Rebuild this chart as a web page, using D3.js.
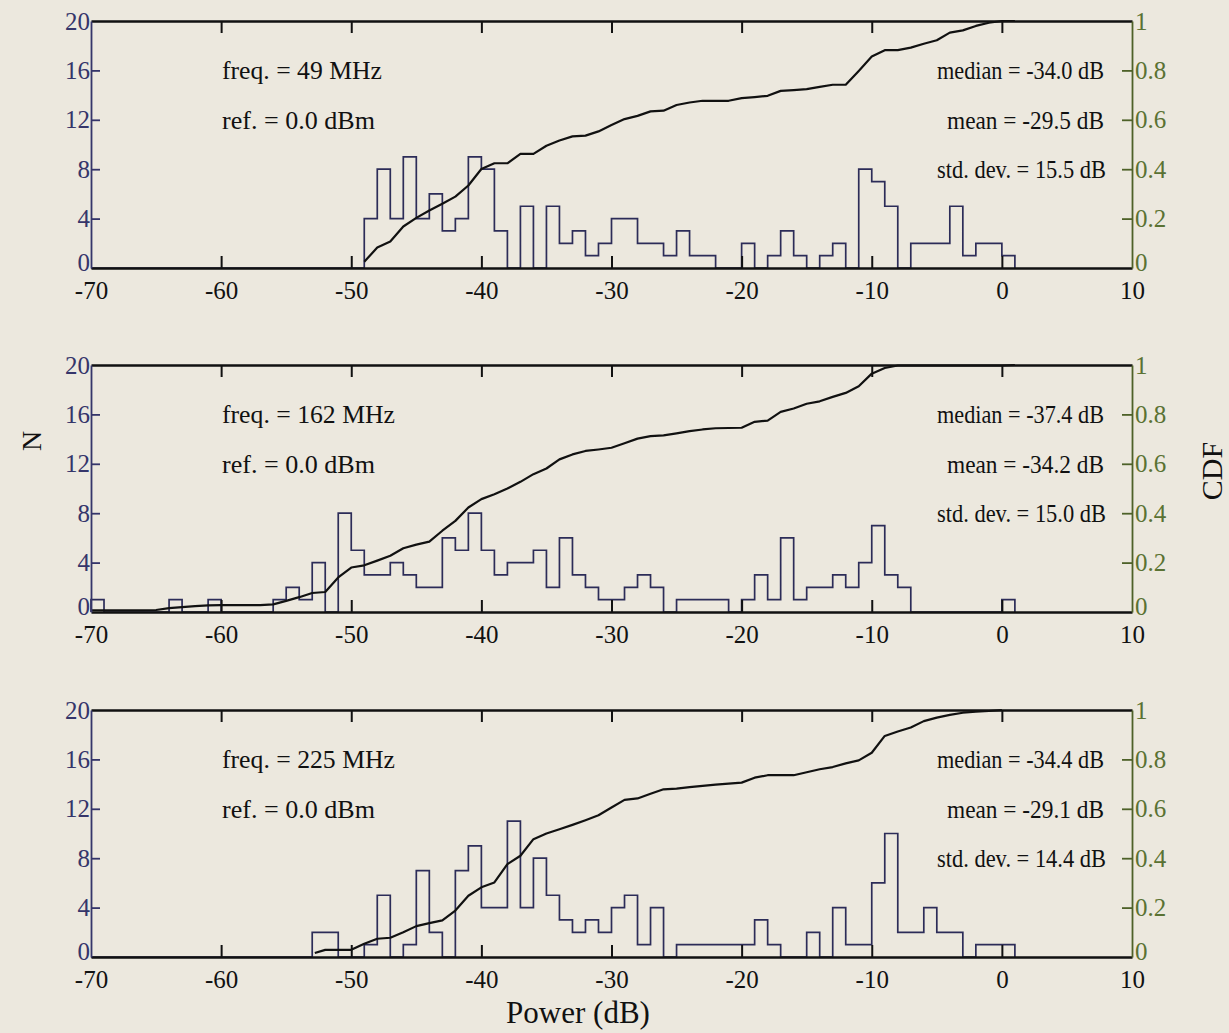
<!DOCTYPE html>
<html><head><meta charset="utf-8">
<script src="https://cdn.jsdelivr.net/npm/d3@7"></script>
<style>
html,body{margin:0;padding:0;background:#ece8de;}
svg{display:block;}
</style></head><body>
<svg id="chart" width="1229" height="1033"></svg>
<script>
// ---------- data ----------
const binEdges = [-70,-69,-68,-67,-66,-65,-64,-63,-62,-61,
  -60,-59,-58,-57,-56,-55,-54,-53,-52,-51,
  -50,-49,-48,-47,-46,-45,-44,-43,-42,-41,
  -40,-39,-38,-37,-36,-35,-34,-33,-32,-31,
  -30,-29,-28,-27,-26,-25,-24,-23,-22,-21,
  -20,-19,-18,-17,-16,-15,-14,-13,-12,-11,
  -10,-9,-8,-7,-6,-5,-4,-3,-2,-1,0];

const counts49 = [0,0,0,0,0,0,0,0,0,0,
  0,0,0,0,0,0,0,0,0,0,
  0,4,8,4,9,4,6,3,4,9,
  8,3,0,5,0,5,2,3,1,2,
  4,4,2,2,1,3,1,1,0,0,
  2,0,1,3,1,0,1,2,0,8,
  7,5,0,2,2,2,5,1,2,2,1];
const counts162 = [1,0,0,0,0,0,1,0,0,1,
  0,0,0,0,1,2,1,4,0,8,
  5,3,3,4,3,2,2,6,5,8,
  5,3,4,4,5,2,6,3,2,1,
  1,2,3,2,0,1,1,1,1,0,
  1,3,1,6,1,2,2,3,2,4,
  7,3,2,0,0,0,0,0,0,0,1];
const counts225 = [0,0,0,0,0,0,0,0,0,0,
  0,0,0,0,0,0,0,2,2,0,
  0,1,5,0,1,7,2,0,7,9,
  4,4,11,4,8,5,3,2,3,2,
  4,5,1,4,0,1,1,1,1,1,
  1,3,1,0,0,2,0,4,1,1,
  6,10,2,2,4,2,2,0,1,1,1];

const cdfX49 = [-49,-48,-47,-46,-45,-44,-43,-42,-41,-40,-39,-38,-37,-36,-35,-34,-33,-32,-31,-30,
  -29,-28,-27,-26,-25,-24,-23,-22,-21,-20,-19,-18,-17,-16,-15,-14,-13,-12,-11,-10,
  -9,-8,-7,-6,-5,-4,-3,-2,-1,0,1];
const cdfY49 = [0.025,0.083,0.107,0.168,0.203,0.233,0.260,0.289,0.334,0.401,0.424,0.424,0.462,0.462,0.495,0.516,0.533,0.536,0.553,0.579,
  0.603,0.616,0.634,0.637,0.660,0.670,0.677,0.677,0.677,0.688,0.692,0.697,0.717,0.720,0.724,0.733,0.742,0.742,0.798,0.856,
  0.882,0.882,0.892,0.908,0.922,0.953,0.962,0.980,0.993,1.0,1.0];

const cdfX162 = [-70,-69,-68,-67,-66,-65,-64,-63,-62,-61,-60,-59,-58,-57,-56,-55,-54,-53,-52,-51,
  -50,-49,-48,-47,-46,-45,-44,-43,-42,-41,-40,-39,-38,-37,-36,-35,-34,-33,-32,-31,
  -30,-29,-28,-27,-26,-25,-24,-23,-22,-21,-20,-19,-18,-17,-16,-15,-14,-13,-12,-11,
  -10,-9,-8,-7,-6,-5,-4,-3,-2,-1,0,1];
const cdfY162 = [0.007,0.007,0.007,0.007,0.007,0.008,0.016,0.020,0.024,0.027,0.028,0.028,0.028,0.028,0.031,0.045,0.060,0.077,0.081,0.140,
  0.180,0.189,0.208,0.228,0.258,0.273,0.285,0.329,0.369,0.423,0.457,0.477,0.500,0.527,0.558,0.581,0.618,0.638,0.652,0.658,
  0.665,0.683,0.702,0.712,0.715,0.723,0.732,0.739,0.744,0.745,0.746,0.770,0.775,0.810,0.824,0.843,0.853,0.871,0.887,0.914,
  0.965,0.988,0.998,0.998,0.998,0.998,0.998,0.998,0.998,0.998,0.998,1.0];

const cdfX225 = [-52.8,-52,-51,-50,-49,-48,-47,-46,-45,-44,-43,-42,-41,-40,-39,-38,-37,-36,-35,-34,
  -33,-32,-31,-30,-29,-28,-27,-26,-25,-24,-23,-22,-21,-20,-19,-18,-17,-16,-15,-14,
  -13,-12,-11,-10,-9,-8,-7,-6,-5,-4,-3,-2,-1,0];
const cdfY225 = [0.016,0.029,0.029,0.029,0.054,0.074,0.078,0.100,0.125,0.137,0.148,0.188,0.248,0.282,0.302,0.376,0.410,0.477,0.500,0.517,
  0.535,0.554,0.574,0.605,0.636,0.642,0.661,0.679,0.682,0.688,0.693,0.698,0.702,0.706,0.726,0.736,0.736,0.736,0.748,0.760,
  0.769,0.784,0.796,0.827,0.895,0.913,0.929,0.955,0.969,0.980,0.989,0.993,0.996,1.0];

const freqLabels = ["freq. = 49 MHz", "freq. = 162 MHz", "freq. = 225 MHz"];
const refLabels = ["ref. = 0.0 dBm", "ref. = 0.0 dBm", "ref. = 0.0 dBm"];
const medianLabels = ["median = -34.0 dB", "median = -37.4 dB", "median = -34.4 dB"];
const meanLabels = ["mean = -29.5 dB", "mean = -34.2 dB", "mean = -29.1 dB"];
const stdLabels = ["std. dev. = 15.5 dB", "std. dev. = 15.0 dB", "std. dev. = 14.4 dB"];

const xTicks = [-70,-60,-50,-40,-30,-20,-10,0,10];
const nTicks = [0,4,8,12,16,20];
const cdfTicks = [0,0.2,0.4,0.6,0.8,1];
const xLabel = "Power (dB)";
const yLabelLeft = "N";
const yLabelRight = "CDF";

// ---------- layout ----------
const panels = [
  {counts: counts49, cx: cdfX49, cy: cdfY49, freqW: 160},
  {counts: counts162, cx: cdfX162, cy: cdfY162, freqW: 173},
  {counts: counts225, cx: cdfX225, cy: cdfY225, freqW: 173}
];
const tops = [21, 365, 710];
const ph = 247;
const FONT = '"Liberation Serif","Times New Roman",serif';
const NAVY = "#35356a", HIST = "#2c2c58", OLIVE = "#4e6128", OLIVE_T = "#5a7233";

const svg = d3.select("#chart");
svg.append("rect").attr("width",1229).attr("height",1033).attr("fill","#ece8de");

const x = d3.scaleLinear().domain([-70,10]).range([91,1132]);

panels.forEach((p, i) => {
  const top = tops[i], bot = top + ph;
  const yL = d3.scaleLinear().domain([0,20]).range([bot, top]);
  const yR = d3.scaleLinear().domain([0,1]).range([bot, top]);
  const g = svg.append("g");

  // histogram outline
  const pts = [[binEdges[0], 0]].concat(binEdges.map((e, k) => [e, p.counts[k]])).concat([[binEdges[binEdges.length-1] + 1, 0]]);
  g.append("path")
    .attr("d", d3.line().x(d => x(d[0])).y(d => yL(d[1])).curve(d3.curveStepAfter)(pts))
    .attr("fill","none").attr("stroke",HIST).attr("stroke-width",1.7);

  // CDF
  g.append("path")
    .attr("d", d3.line().x(d => x(d[0])).y(d => yR(d[1]))(p.cx.map((v,k)=>[v,p.cy[k]])))
    .attr("fill","none").attr("stroke","#111").attr("stroke-width",2.2).attr("stroke-linejoin","round");

  // bottom axis
  const ax = g.append("g").attr("transform",`translate(0,${bot})`)
    .call(d3.axisBottom(x).tickValues(xTicks).tickSizeInner(-12).tickSizeOuter(0).tickPadding(13).tickFormat(d => String(d)));
  ax.select(".domain").attr("stroke","#111").attr("stroke-width",2.4);
  ax.selectAll(".tick line").attr("stroke","#111").attr("stroke-width",2)
    .filter(d => d === -70 || d === 10).remove();
  ax.selectAll("text").attr("font-family",FONT).attr("font-size",25).attr("fill","#111");

  // top axis
  const at = g.append("g").attr("transform",`translate(0,${top})`)
    .call(d3.axisTop(x).tickValues(xTicks.slice(1,-1)).tickSizeInner(-12).tickSizeOuter(0).tickFormat(""));
  at.select(".domain").attr("stroke","#111").attr("stroke-width",2.4);
  at.selectAll(".tick line").attr("stroke","#111").attr("stroke-width",2);

  // left axis
  const al = g.append("g").attr("transform",`translate(${x(-70)},0)`)
    .call(d3.axisLeft(yL).tickValues(nTicks).tickSizeInner(-9).tickSizeOuter(0).tickPadding(1));
  al.select(".domain").attr("stroke",NAVY).attr("stroke-width",1.8);
  al.selectAll(".tick line").attr("stroke",NAVY).attr("stroke-width",1.8)
    .filter(d => d === 0 || d === 20).remove();
  al.selectAll("text").attr("font-family",FONT).attr("font-size",25).attr("fill",NAVY);
  al.selectAll(".tick").filter(d => d === 0).select("text").attr("dy","0.1em");

  // right axis
  const ar = g.append("g").attr("transform",`translate(${x(10)},0)`)
    .call(d3.axisRight(yR).tickValues(cdfTicks).tickSizeInner(-10).tickSizeOuter(0).tickPadding(3)
      .tickFormat(d => (d === 0 || d === 1) ? String(d) : d3.format(".1f")(d)));
  ar.select(".domain").attr("stroke",OLIVE).attr("stroke-width",1.8);
  ar.selectAll(".tick line").attr("stroke",OLIVE).attr("stroke-width",1.8)
    .filter(d => d === 0 || d === 1).remove();
  ar.selectAll("text").attr("font-family",FONT).attr("font-size",25).attr("fill",OLIVE_T);
  ar.selectAll(".tick").filter(d => d === 0).select("text").attr("dy","0.1em");

  // annotations
  const txt = (s, xx, yy, anchor, w) => g.append("text").text(s).attr("x",xx).attr("y",yy)
    .attr("text-anchor",anchor).attr("font-family",FONT).attr("font-size",25).attr("fill","#111")
    .attr("textLength", w).attr("lengthAdjust","spacingAndGlyphs");
  txt(freqLabels[i], 222, yL(16) + 9, "start", p.freqW);
  txt(refLabels[i], 222, yL(12) + 9, "start", 153);
  txt(medianLabels[i], 1104, yL(16) + 9, "end", 167);
  txt(meanLabels[i], 1104, yL(12) + 9, "end", 157);
  txt(stdLabels[i], 1106, yL(8) + 9, "end", 169);
});

svg.append("text").text(xLabel).attr("x",578).attr("y",1023).attr("text-anchor","middle")
  .attr("font-family",FONT).attr("font-size",31).attr("fill","#111");
svg.append("text").text(yLabelLeft).attr("transform","translate(41,441) rotate(-90)").attr("text-anchor","middle")
  .attr("font-family",FONT).attr("font-size",28).attr("fill","#111");
svg.append("text").text(yLabelRight).attr("transform","translate(1222,471) rotate(-90)").attr("text-anchor","middle")
  .attr("font-family",FONT).attr("font-size",30).attr("fill","#111");
</script>
</body></html>
